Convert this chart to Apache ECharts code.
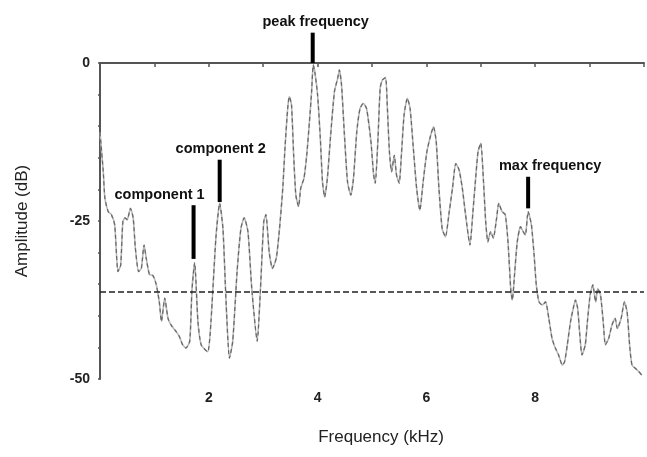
<!DOCTYPE html>
<html>
<head>
<meta charset="utf-8">
<script src="https://cdn.jsdelivr.net/npm/echarts@6/dist/echarts.min.js"></script>
<style>
  html, body { margin: 0; padding: 0; background: #ffffff; }
  #chart { width: 647px; height: 457px; }
</style>
</head>
<body>
<div id="chart"></div>
<script>
// spectrum (kHz, dB)
var freqKhz = [0.00, 0.06, 0.09, 0.15, 0.21, 0.27, 0.33, 0.38, 0.42, 0.46, 0.50, 0.56, 0.61, 0.65, 0.71, 0.76, 0.81, 0.85, 0.91, 0.97,
  1.03, 1.09, 1.13, 1.19, 1.25, 1.31, 1.40, 1.46, 1.52, 1.58, 1.65, 1.69, 1.74, 1.80, 1.86, 1.98, 2.04, 2.13, 2.20, 2.26,
  2.32, 2.38, 2.44, 2.52, 2.59, 2.65, 2.72, 2.79, 2.89, 2.95, 3.01, 3.05, 3.11, 3.17, 3.24, 3.30, 3.36, 3.40, 3.45, 3.48,
  3.52, 3.56, 3.60, 3.65, 3.69, 3.75, 3.80, 3.85, 3.89, 3.92, 3.95, 4.00, 4.05, 4.09, 4.13, 4.18, 4.24, 4.31, 4.37, 4.40,
  4.44, 4.49, 4.55, 4.61, 4.66, 4.72, 4.78, 4.84, 4.90, 4.98, 5.03, 5.06, 5.11, 5.15, 5.19, 5.25, 5.28, 5.32, 5.36, 5.41,
  5.45, 5.50, 5.54, 5.59, 5.65, 5.70, 5.76, 5.82, 5.88, 5.94, 6.01, 6.08, 6.13, 6.18, 6.23, 6.29, 6.35, 6.42, 6.48, 6.54,
  6.60, 6.66, 6.72, 6.80, 6.86, 6.90, 6.95, 7.00, 7.05, 7.09, 7.13, 7.18, 7.23, 7.29, 7.33, 7.39, 7.45, 7.50, 7.55, 7.58,
  7.62, 7.67, 7.73, 7.78, 7.82, 7.87, 7.93, 7.98, 8.02, 8.07, 8.13, 8.19, 8.25, 8.31, 8.37, 8.43, 8.50, 8.54, 8.59, 8.65,
  8.70, 8.74, 8.78, 8.82, 8.86, 8.92, 8.96, 9.01, 9.06, 9.11, 9.15, 9.20, 9.25, 9.29, 9.35, 9.41, 9.47, 9.51, 9.58, 9.64,
  9.69, 9.74, 9.78, 9.84, 9.90, 9.96];
var ampDb = [-11, -17.2, -21.4, -23.5, -24, -25.6, -33, -32, -25.1, -24.5, -24.8, -23, -24.5, -29.3, -33, -32.5, -28.8, -30.9, -33.5, -33.6,
  -34.9, -37.8, -40.9, -37.2, -40.4, -41.5, -42.5, -43.3, -44.6, -45.1, -44, -36, -31.6, -40.9, -44.6, -45.7, -40.9, -27.7, -22.2, -26.2,
  -38.3, -46.7, -44, -33, -26.2, -24.5, -26.7, -35.7, -44, -35.7, -25.1, -24, -29.9, -32.5, -30.9, -26.2, -19.8, -13.5, -7.2, -5.3,
  -6.6, -14.6, -20.9, -22.7, -19.8, -18.2, -14.6, -9.3, -4.5, -0.3, -1.5, -5.1, -11.9, -18.8, -21.2, -18.2, -11.4, -4.5, -2.4, -1.1,
  -3.5, -10.9, -18.8, -20.9, -18.2, -10.9, -7.2, -6.4, -7.2, -12.4, -17.7, -19, -11.9, -4, -2.7, -2.3, -6.6, -14, -17.2, -14.6,
  -17.7, -19, -14.6, -8.2, -5.6, -7.2, -13.5, -19.8, -23.3, -18.8, -14, -11.4, -10.1, -12.4, -19.8, -26.2, -27.5, -23.5, -19.8, -15.9,
  -16.9, -19.8, -24, -28.8, -23, -18.8, -14, -12.7, -18.8, -25.1, -28.3, -26.7, -27.7, -24.6, -22.2, -23.5, -24, -28.3, -35.7, -37.5,
  -33.5, -28.3, -25.9, -26.7, -27.2, -23.5, -25.6, -30.4, -35.1, -37.8, -38.3, -37.8, -40.4, -43.6, -45.1, -46.2, -47.8, -47.3, -44.6, -40.9,
  -38.8, -37.5, -38.8, -43, -46.2, -44.6, -40.9, -36.7, -35.1, -37.8, -35.7, -36.7, -40.9, -44.6, -43.6, -41.5, -40.4, -42, -40.4, -37.8,
  -39.4, -45.1, -47.8, -48.3, -48.8, -49.4];

// marker bars
var markerNames = ['peak frequency', 'component 2', 'component 1', 'max frequency'];
var markerFreq = [3.91, 2.20, 1.72, 7.87];
var markerLow = [0, -22, -31, -23];
var markerHigh = [4.8, -15.3, -22.5, -18];

var thresholdDb = -36.2;

var fontFam = '"Liberation Sans", Arial, sans-serif';

var lineData = [];
for (var i = 0; i < freqKhz.length; i++) {
  lineData.push([freqKhz[i], ampDb[i]]);
}

// label sits a bit left/right of its bar in the original
var markerShift = [3, 1, -34, 22];
var markData = [];
for (var j = 0; j < markerNames.length; j++) {
  markData.push([markerFreq[j], markerLow[j], markerHigh[j], j]);
}

var myChart = echarts.init(document.getElementById('chart'));
var option = {
  backgroundColor: '#ffffff',
  animation: false,
  grid: { left: 100, right: 2, top: 63, bottom: 78 },
  xAxis: {
    type: 'value',
    min: 0,
    max: 10,
    interval: 1,
    name: 'Frequency (kHz)',
    nameLocation: 'middle',
    nameGap: 50,
    nameTextStyle: { fontFamily: fontFam, fontSize: 17, color: '#222', padding: [0, 0, 0, 18] },
    axisLine: { lineStyle: { color: '#555', width: 2 } },
    axisTick: { length: 4, lineStyle: { color: '#555', width: 1.5 } },
    axisLabel: {
      margin: 12,
      fontFamily: fontFam,
      fontSize: 14,
      fontWeight: 'bold',
      color: '#222',
      formatter: function (v) {
        return (v > 0 && v < 10 && v % 2 === 0) ? String(v) : '';
      }
    },
    splitLine: { show: false }
  },
  yAxis: {
    type: 'value',
    min: -50,
    max: 0,
    interval: 5,
    name: 'Amplitude (dB)',
    nameLocation: 'middle',
    nameGap: 69,
    nameTextStyle: { fontFamily: fontFam, fontSize: 17, color: '#222' },
    axisLine: { show: true, lineStyle: { color: '#555', width: 2 } },
    axisTick: { show: true, length: 2, lineStyle: { color: '#555', width: 1.5 } },
    axisLabel: {
      margin: 10,
      fontFamily: fontFam,
      fontSize: 14,
      fontWeight: 'bold',
      color: '#222',
      formatter: function (v) {
        return v % 25 === 0 ? String(v) : '';
      }
    },
    splitLine: { show: false }
  },
  series: [
    {
      name: 'spectrum',
      type: 'line',
      data: lineData,
      symbol: 'none',
      smooth: 0.2,
      lineStyle: { color: '#b8b8b8', width: 1.6 },
      z: 2
    },
    {
      name: 'spectrum dash',
      type: 'line',
      data: lineData,
      symbol: 'none',
      smooth: 0.2,
      lineStyle: { color: '#666', width: 1.2, type: [4, 3] },
      z: 3,
      markLine: {
        silent: true,
        symbol: 'none',
        label: { show: false },
        lineStyle: { color: '#222', width: 1.5, type: [6, 3] },
        data: [{ yAxis: thresholdDb }]
      }
    },
    {
      name: 'markers',
      type: 'custom',
      clip: false,
      silent: true,
      data: markData,
      renderItem: function (params, api) {
        var k = api.value(3);
        var p0 = api.coord([api.value(0), api.value(1)]);
        var p1 = api.coord([api.value(0), api.value(2)]);
        return {
          type: 'group',
          children: [
            {
              type: 'rect',
              shape: { x: p0[0] - 2, y: p1[1], width: 4, height: p0[1] - p1[1] },
              style: { fill: '#000' }
            },
            {
              type: 'text',
              x: p1[0] + markerShift[k],
              y: p1[1] - 3,
              style: {
                text: markerNames[k],
                align: 'center',
                verticalAlign: 'bottom',
                fontFamily: fontFam,
                fontSize: 14.5,
                fontWeight: 'bold',
                fill: '#111'
              }
            }
          ]
        };
      },
      z: 5
    }
  ]
};
myChart.setOption(option);
</script>
</body>
</html>
